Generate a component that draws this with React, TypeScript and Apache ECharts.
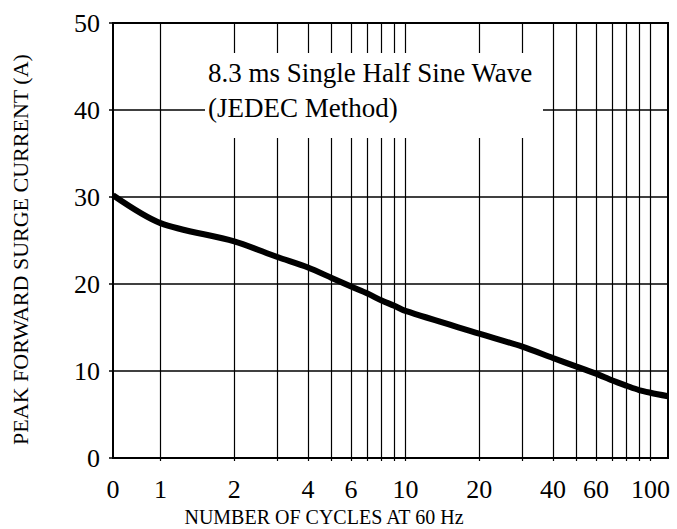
import React, { useEffect, useRef } from "react";
import * as echarts from "echarts";

// ---- data ----
const X_MIN = 0.64; // axis origin, labelled "0" in the source chart
const X_MAX = 118;
const cycles = [X_MIN, 1, 2, 3, 4, 5, 6, 7, 8, 9, 10, 20, 30, 40, 50, 60, 70, 80, 90, 100, X_MAX];
const surgeCurrent = [30.2, 27.0, 24.9, 23.1, 21.9, 20.7, 19.7, 18.9, 18.1, 17.5, 16.9, 14.3, 12.8, 11.5, 10.5, 9.7, 8.9, 8.3, 7.8, 7.5, 7.1];
const gridCycles = [1, 2, 3, 4, 5, 6, 7, 8, 9, 10, 20, 30, 40, 50, 60, 70, 80, 90, 100];
const xLabelCycles = [X_MIN, 1, 2, 4, 6, 10, 20, 40, 60, 100];
const Y_MIN = 0;
const Y_MAX = 50;
const Y_STEP = 10;
const xAxisTitle = "NUMBER OF CYCLES AT 60 Hz";
const yAxisTitle = "PEAK FORWARD SURGE CURRENT (A)";
const noteLines = ["8.3 ms Single Half Sine Wave", "(JEDEC Method)"];

const FONT = '"Liberation Serif", "Times New Roman", serif';

export default function App() {
  const ref = useRef<HTMLDivElement | null>(null);

  useEffect(() => {
    if (!ref.current) return;
    const chart = echarts.init(ref.current, null, { renderer: "svg" });
    const black = "#000";
    chart.setOption({
      animation: false,
      backgroundColor: "#fff",
      grid: {
        left: 113,
        right: 9,
        top: 23,
        bottom: 71,
        show: true,
        borderColor: black,
        borderWidth: 2,
        backgroundColor: "transparent",
        outerBoundsMode: "none",
      },
      xAxis: {
        type: "log",
        logBase: 10,
        min: X_MIN,
        max: X_MAX,
        name: xAxisTitle,
        nameLocation: "middle",
        nameGap: 46,
        nameTextStyle: {
          fontFamily: FONT,
          fontSize: 20,
          color: black,
          padding: [0, 133, 0, 0],
        },
        axisLine: { show: true, lineStyle: { color: black, width: 1.5 } },
        axisTick: {
          show: true,
          customValues: gridCycles,
          length: 3,
          lineStyle: { color: black, width: 1.2 },
        },
        axisLabel: {
          customValues: xLabelCycles,
          formatter: (v: number) => (v < 1 ? "0" : String(Math.round(v))),
          fontFamily: FONT,
          fontSize: 26,
          color: black,
          margin: 18,
        },
        splitLine: { show: true, lineStyle: { color: black, width: 1.2 } },
        minorSplitLine: { show: false },
      },
      yAxis: {
        type: "value",
        min: Y_MIN,
        max: Y_MAX,
        interval: Y_STEP,
        name: yAxisTitle,
        nameLocation: "middle",
        nameGap: 82,
        nameTextStyle: {
          fontFamily: FONT,
          fontSize: 22,
          color: black,
          padding: [0, 18, 0, 0],
        },
        axisLine: { show: true, lineStyle: { color: black, width: 2 } },
        axisTick: { show: true, length: 4, lineStyle: { color: black, width: 1.5 } },
        axisLabel: { fontFamily: FONT, fontSize: 26, color: black, margin: 13 },
        splitLine: { show: true, lineStyle: { color: black, width: 1.5 } },
      },
      series: [
        {
          type: "line",
          data: cycles.map((c, i) => [c, surgeCurrent[i]]),
          symbol: "none",
          showSymbol: false,
          smooth: 0.3,
          lineStyle: { color: black, width: 6 },
          z: 5,
        },
      ],
      graphic: [
        {
          type: "group",
          left: 205,
          top: 53,
          z: 100,
          children: [
            {
              type: "rect",
              z: 100,
              shape: { x: 0, y: 0, width: 338, height: 85 },
              style: { fill: "#fff" },
            },
            {
              type: "text",
              z: 101,
              x: 3,
              y: 19.6,
              style: {
                text: noteLines[0],
                font: `27px ${FONT}`,
                fill: black,
                align: "left",
                verticalAlign: "middle",
              },
            },
            {
              type: "text",
              z: 101,
              x: 3,
              y: 54.9,
              style: {
                text: noteLines[1],
                font: `27px ${FONT}`,
                fill: black,
                align: "left",
                verticalAlign: "middle",
              },
            },
          ],
        },
      ],
    });
    return () => chart.dispose();
  }, []);

  return (
    <div
      ref={ref}
      style={{ position: "fixed", left: 0, top: 0, width: 677, height: 529, background: "#fff" }}
    />
  );
}
